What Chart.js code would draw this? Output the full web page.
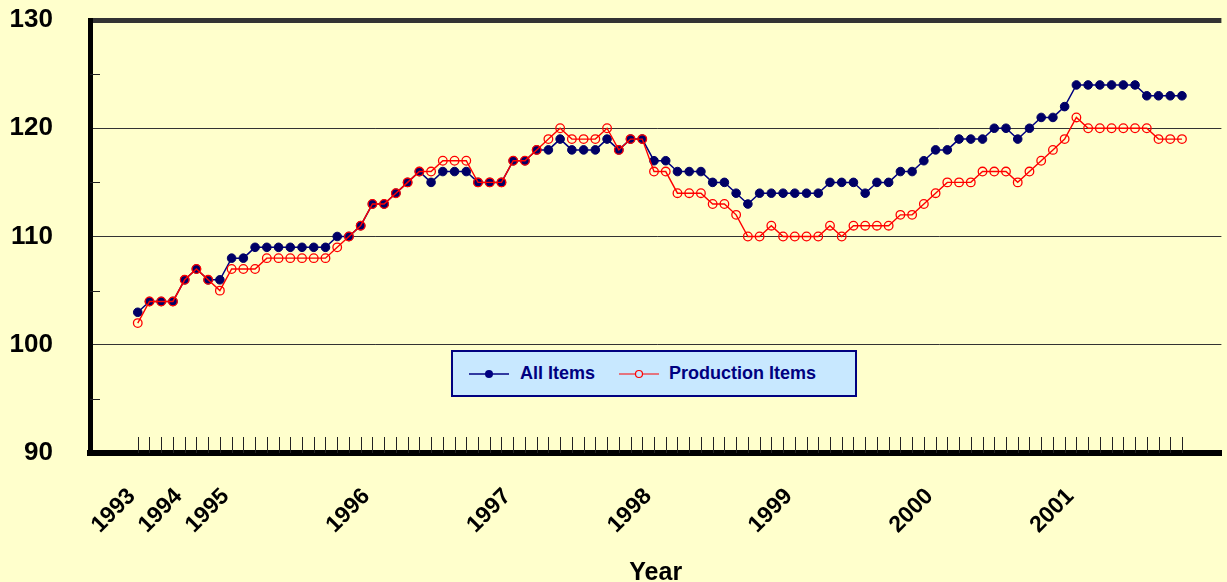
<!DOCTYPE html>
<html>
<head>
<meta charset="utf-8">
<script src="https://cdn.jsdelivr.net/npm/chart.js@4.4.1/dist/chart.umd.min.js"></script>
<style>
  html, body { margin: 0; padding: 0; background: #FFFFCC; }
  #wrap { position: relative; width: 1227px; height: 582px; overflow: hidden; background: #FFFFCC; }
  canvas { display: block; }
  #legend {
    position: absolute; left: 451px; top: 350px; width: 402px; height: 43px;
    background: #C8E8FF; border: 2px solid #000080;
    font-family: "Liberation Sans", Arial, sans-serif; font-weight: bold; font-size: 18px; color: #000080;
  }
  .item { position: absolute; top: 0; height: 43px; display: flex; align-items: center; }
  .item svg { margin-right: 10px; }
</style>
</head>
<body>
<div id="wrap">
  <canvas id="c" width="1227" height="582"></canvas>
  <div id="legend">
    <div class="item" style="left:15px">
      <svg width="42" height="12"><line x1="1" y1="6" x2="41" y2="6" stroke="#000080" stroke-width="1.5"/><circle cx="21" cy="6" r="4" fill="#000080"/></svg>
      <span>All Items</span>
    </div>
    <div class="item" style="left:166px">
      <svg width="40" height="12"><line x1="0" y1="6" x2="40" y2="6" stroke="#FF0000" stroke-width="1.2"/><circle cx="20" cy="6" r="3.5" fill="#C8E8FF" stroke="#FF0000" stroke-width="1.2"/></svg>
      <span>Production Items</span>
    </div>
  </div>
</div>
<script>
// ---- data ----
const categories = [
  '1993 Q1','1993 Q2','1993 Q3','1993 Q4','1994 Q1','1994 Q2','1994 Q3','1994 Q4',
  '1995 Jan','1995 Feb','1995 Mar','1995 Apr','1995 May','1995 Jun','1995 Jul','1995 Aug','1995 Sep','1995 Oct','1995 Nov','1995 Dec',
  '1996 Jan','1996 Feb','1996 Mar','1996 Apr','1996 May','1996 Jun','1996 Jul','1996 Aug','1996 Sep','1996 Oct','1996 Nov','1996 Dec',
  '1997 Jan','1997 Feb','1997 Mar','1997 Apr','1997 May','1997 Jun','1997 Jul','1997 Aug','1997 Sep','1997 Oct','1997 Nov','1997 Dec',
  '1998 Jan','1998 Feb','1998 Mar','1998 Apr','1998 May','1998 Jun','1998 Jul','1998 Aug','1998 Sep','1998 Oct','1998 Nov','1998 Dec',
  '1999 Jan','1999 Feb','1999 Mar','1999 Apr','1999 May','1999 Jun','1999 Jul','1999 Aug','1999 Sep','1999 Oct','1999 Nov','1999 Dec',
  '2000 Jan','2000 Feb','2000 Mar','2000 Apr','2000 May','2000 Jun','2000 Jul','2000 Aug','2000 Sep','2000 Oct','2000 Nov','2000 Dec',
  '2001 Jan','2001 Feb','2001 Mar','2001 Apr','2001 May','2001 Jun','2001 Jul','2001 Aug','2001 Sep','2001 Oct'
];
const allItems = [
  103,104,104,104,106,107,106,106,
  108,108,109,109,109,109,109,109,109,110,110,111,
  113,113,114,115,116,115,116,116,116,115,115,115,
  117,117,118,118,119,118,118,118,119,118,119,119,
  117,117,116,116,116,115,115,114,113,114,114,114,
  114,114,114,115,115,115,114,115,115,116,116,117,
  118,118,119,119,119,120,120,119,120,121,121,122,
  124,124,124,124,124,124,123,123,123,123
];
const productionItems = [
  102,104,104,104,106,107,106,105,
  107,107,107,108,108,108,108,108,108,109,110,111,
  113,113,114,115,116,116,117,117,117,115,115,115,
  117,117,118,119,120,119,119,119,120,118,119,119,
  116,116,114,114,114,113,113,112,110,110,111,110,
  110,110,110,111,110,111,111,111,111,112,112,113,
  114,115,115,115,116,116,116,115,116,117,118,119,
  121,120,120,120,120,120,120,119,119,119
];
const yTicks = [90, 100, 110, 120, 130];
const yMinorTicks = [95, 105, 115, 125];

// year tick labels: first observation of each year
const yearTicks = [];
categories.forEach((c, i) => {
  const y = c.slice(0, 4);
  if (i === 0 || categories[i - 1].slice(0, 4) !== y) yearTicks.push({ value: i, label: y });
});

const FONT = '"Liberation Sans", Arial, sans-serif';

const innerTicks = {
  id: 'innerTicks',
  beforeDatasetsDraw(chart) {
    const { ctx, chartArea } = chart;
    const xs = chart.scales.x, ys = chart.scales.y;
    ctx.save();
    ctx.strokeStyle = '#222';
    ctx.lineWidth = 1;
    ctx.beginPath();
    categories.forEach((c, i) => {
      const px = Math.round(xs.getPixelForValue(i)) + 0.5;
      ctx.moveTo(px, chartArea.bottom);
      ctx.lineTo(px, chartArea.bottom - 16);
    });
    yMinorTicks.forEach(v => {
      const py = Math.round(ys.getPixelForValue(v)) + 0.5;
      ctx.moveTo(chartArea.left, py);
      ctx.lineTo(chartArea.left + 10, py);
    });
    ctx.stroke();
    ctx.restore();
  }
};

new Chart(document.getElementById('c'), {
  type: 'line',
  data: {
    datasets: [
      {
        label: 'All Items',
        data: allItems.map((v, i) => ({ x: i, y: v })),
        borderColor: '#000080',
        backgroundColor: '#000080',
        borderWidth: 1.5,
        pointRadius: 4.3,
        pointBackgroundColor: '#000066',
        pointBorderColor: '#000066',
        pointBorderWidth: 1,
        order: 2,
        tension: 0
      },
      {
        label: 'Production Items',
        data: productionItems.map((v, i) => ({ x: i, y: v })),
        borderColor: '#FF0000',
        backgroundColor: 'rgba(0,0,0,0)',
        borderWidth: 1.4,
        pointRadius: 4.3,
        pointBackgroundColor: 'rgba(0,0,0,0)',
        pointBorderColor: '#FF0000',
        pointBorderWidth: 1.3,
        order: 1,
        tension: 0
      }
    ]
  },
  options: {
    responsive: false,
    animation: false,
    layout: { padding: { left: 0, right: 0, top: 20, bottom: 0 } },
    plugins: { legend: { display: false }, tooltip: { enabled: false } },
    scales: {
      x: {
        type: 'linear',
        min: -4.07,
        max: 92.36,
        afterBuildTicks: (scale) => { scale.ticks = yearTicks.map(t => ({ value: t.value })); },
        afterFit: (scale) => { scale.height = 129; },
        ticks: {
          autoSkip: false,
          minRotation: 45,
          maxRotation: 45,
          padding: 30,
          labelOffset: -6,
          color: '#000',
          font: { family: FONT, size: 23, weight: 'bold' },
          callback: (value) => { const t = yearTicks.find(t => t.value === value); return t ? t.label : ''; }
        },
        grid: { drawOnChartArea: false, drawTicks: false },
        border: { display: true, color: '#000', width: 6 },
        title: {
          display: true,
          text: 'Year',
          color: '#000',
          font: { family: FONT, size: 25, weight: 'bold' },
          padding: { top: 0, bottom: -6 }
        }
      },
      y: {
        min: 90,
        max: 130,
        afterBuildTicks: (scale) => { scale.ticks = yTicks.map(v => ({ value: v })); },
        afterFit: (scale) => { scale.width = 90; },
        ticks: {
          padding: 0,
          color: '#000',
          font: { family: FONT, size: 26, weight: 'bold' }
        },
        grid: {
          drawTicks: true,
          tickLength: 37,
          tickColor: 'rgba(0,0,0,0)',
          color: '#333',
          lineWidth: (ctx) => (ctx.tick && ctx.tick.value === 130 ? 5 : 1)
        },
        border: { display: true, color: '#000', width: 5 }
      }
    }
  },
  plugins: [innerTicks]
});
</script>
</body>
</html>
